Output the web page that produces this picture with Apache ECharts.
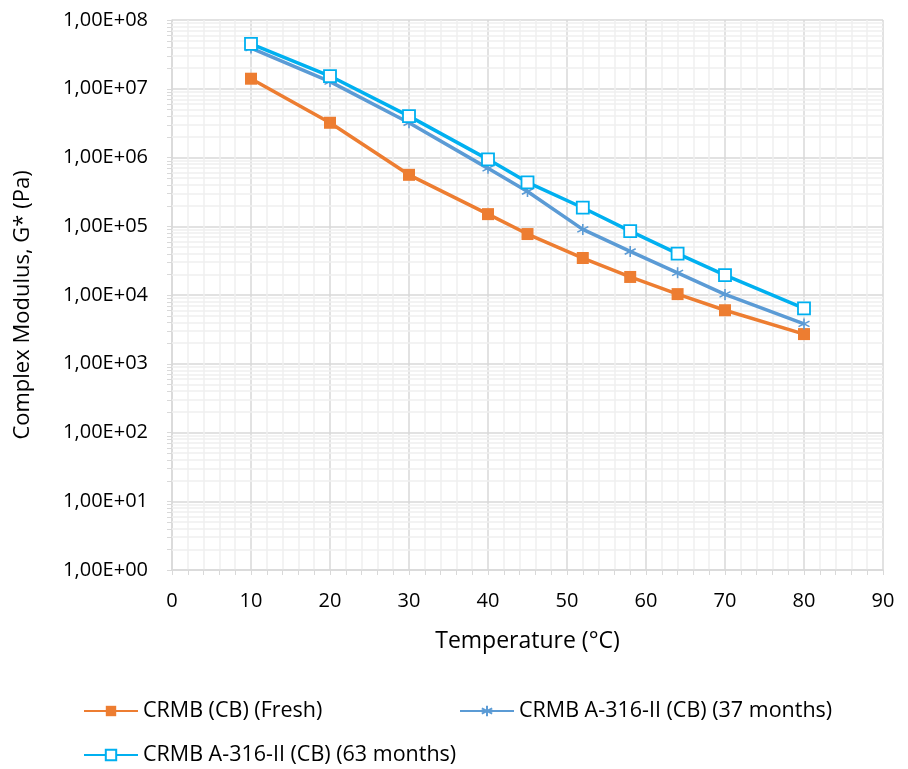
<!DOCTYPE html>
<html>
<head>
<meta charset="utf-8">
<script src="https://cdn.jsdelivr.net/npm/echarts@6/dist/echarts.min.js"></script>
<style>
  html, body { margin: 0; padding: 0; background: #fff; }
  #chart { width: 908px; height: 769px; }
</style>
</head>
<body>
<div id="chart"></div>
<script>
// Test temperatures (°C)
const temperatures = [10, 20, 30, 40, 45, 52, 58, 64, 70, 80];

// Complex modulus G* (Pa) per binder condition
const fresh    = [1.4e7, 3.2e6, 5.6e5, 1.5e5, 7.7e4, 3.45e4, 1.83e4, 1.03e4, 6.0e3, 2.7e3];
const aged37   = [3.9e7, 1.27e7, 3.2e6, 6.95e5, 3.2e5, 9.0e4, 4.3e4, 2.1e4, 1.02e4, 3.8e3];
const aged63   = [4.5e7, 1.53e7, 4.0e6, 9.4e5, 4.35e5, 1.86e5, 8.5e4, 4.0e4, 1.95e4, 6.4e3];

const seriesNames = [
  'CRMB (CB) (Fresh)',
  'CRMB A-316-II (CB) (37 months)',
  'CRMB A-316-II (CB) (63 months)'
];

// Decade range of the log axis
const yMin = 1, yMax = 1e8;

const FONT = '"Open Sans", sans-serif';
const GRID_LEFT = 172;

// Log-scale minor values at 2..9 × 10^k
const minorValues = [];
for (let k = 0; k < 8; k++) {
  for (let m = 2; m <= 9; m++) minorValues.push(m * Math.pow(10, k));
}

function pairs(vals) {
  return temperatures.map((t, i) => [t, vals[i]]);
}

function sciLabel(v) {
  const exp = Math.round(Math.log10(v));
  const mant = v / Math.pow(10, exp);
  const e = (exp < 10 ? '0' : '') + exp;
  return mant.toFixed(2).replace('.', ',') + 'E+' + e;
}

const asterisk = 'path://M5,0 L5,10 M0.7,2.5 L9.3,7.5 M0.7,7.5 L9.3,2.5';

const legendText = { fontFamily: FONT, fontSize: 21.5, color: '#000' };
const legendBase = { padding: 0, itemWidth: 54, itemHeight: 13, itemGap: 0, textStyle: legendText };

const chart = echarts.init(document.getElementById('chart'), null, { renderer: 'canvas' });

chart.setOption({
  backgroundColor: '#ffffff',
  animation: false,
  grid: { left: GRID_LEFT, right: 25, top: 20, bottom: 199 },
  legend: [
    Object.assign({ data: [seriesNames[0]], left: 83, top: 700 }, legendBase),
    Object.assign({ data: [seriesNames[1]], left: 459, top: 700 }, legendBase),
    Object.assign({ data: [seriesNames[2]], left: 83, top: 744 }, legendBase)
  ],
  xAxis: {
    type: 'value',
    min: 0, max: 90, interval: 10,
    name: 'Temperature (°C)',
    nameLocation: 'middle',
    nameGap: 60,
    nameTextStyle: { fontFamily: FONT, fontSize: 23, color: '#000' },
    axisLine: { show: true, lineStyle: { color: '#D9D9D9', width: 1.5 } },
    axisTick: { show: true, length: 5, lineStyle: { color: '#D9D9D9' } },
    minorTick: { show: true, splitNumber: 5, length: 5, lineStyle: { color: '#D9D9D9' } },
    axisLabel: { fontFamily: FONT, fontSize: 20, color: '#000', margin: 21 },
    splitLine: { show: true, lineStyle: { color: '#D9D9D9', width: 1.5 } },
    minorSplitLine: { show: true, lineStyle: { color: '#F0F0F0', width: 1.5 } }
  },
  yAxis: {
    type: 'log',
    logBase: 10,
    min: yMin, max: yMax,
    name: 'Complex Modulus, G* (Pa)',
    nameLocation: 'middle',
    nameGap: 138,
    nameTextStyle: { fontFamily: FONT, fontSize: 22, color: '#000', padding: [0, 20, 0, 0] },
    axisLine: { show: true, lineStyle: { color: '#D9D9D9', width: 1.5 } },
    axisTick: { show: true, length: 5, lineStyle: { color: '#D9D9D9' } },
    axisLabel: { fontFamily: FONT, fontSize: 20, color: '#000', margin: 24, formatter: sciLabel },
    splitLine: { show: true, lineStyle: { color: '#D9D9D9', width: 1.5 } }
  },
  series: [
    {
      name: 'minor-grid',
      type: 'line',
      data: [],
      silent: true,
      z: 1,
      markLine: {
        silent: true,
        symbol: 'none',
        label: { show: false },
        lineStyle: { color: '#EFEFEF', width: 1.5, type: 'solid' },
        data: minorValues.map(v => ({ yAxis: v }))
      }
    },
    {
      name: seriesNames[0],
      type: 'line',
      data: pairs(fresh),
      symbol: 'rect',
      symbolSize: 12,
      z: 10,
      color: '#ED7D31',
      lineStyle: { width: 3.5, color: '#ED7D31' },
      itemStyle: { color: '#ED7D31' }
    },
    {
      name: seriesNames[1],
      type: 'line',
      data: pairs(aged37),
      symbol: asterisk,
      symbolSize: 11,
      z: 11,
      color: '#5B9BD5',
      lineStyle: { width: 3.5, color: '#5B9BD5' },
      itemStyle: { color: '#5B9BD5', borderColor: '#5B9BD5', borderWidth: 1.6 }
    },
    {
      name: seriesNames[2],
      type: 'line',
      data: pairs(aged63),
      symbol: 'rect',
      symbolSize: 12,
      z: 12,
      color: '#00B0F0',
      lineStyle: { width: 3.5, color: '#00B0F0' },
      itemStyle: { color: '#ffffff', borderColor: '#00B0F0', borderWidth: 1.8 }
    }
  ]
});

// Minor tick marks on the log axis, placed through the axis scale
const tickMarks = minorValues.map(v => {
  const y = Math.round(chart.convertToPixel({ yAxisIndex: 0 }, v)) + 0.5;
  return {
    type: 'line',
    silent: true,
    shape: { x1: GRID_LEFT - 5, y1: y, x2: GRID_LEFT, y2: y },
    style: { stroke: '#D9D9D9', lineWidth: 1 }
  };
});
chart.setOption({ graphic: tickMarks });
</script>
</body>
</html>
